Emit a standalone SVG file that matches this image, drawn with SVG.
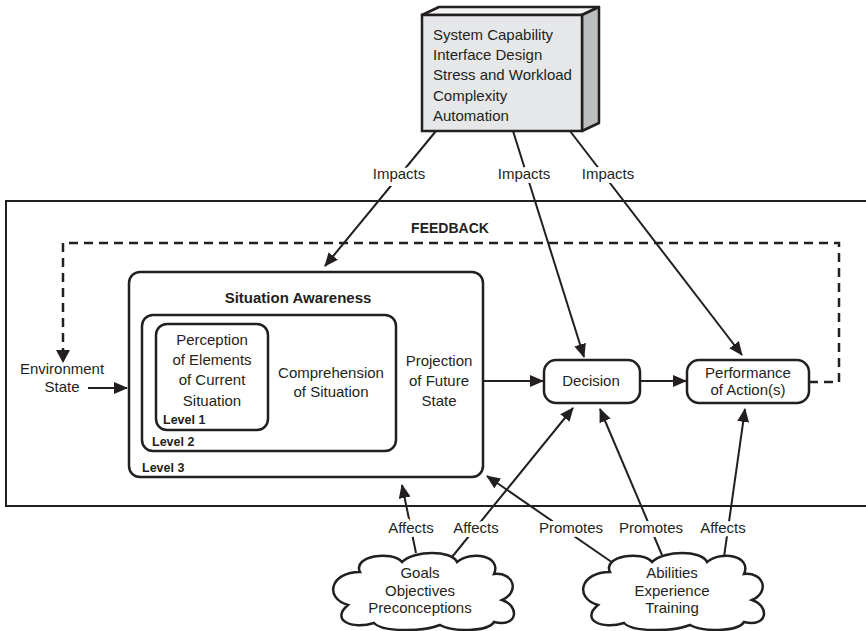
<svg xmlns="http://www.w3.org/2000/svg" width="866" height="631" viewBox="0 0 866 631">
<defs>
<style>
text{font-family:"Liberation Sans",Arial,sans-serif;font-size:15px;fill:#231f20}
.c{text-anchor:middle}
.b{font-weight:bold}
.lv{font-weight:bold;font-size:12.5px}
.box{fill:#fff;stroke:#231f20;stroke-width:2.5}
.ln{fill:none;stroke:#231f20;stroke-width:2}
.dash{fill:none;stroke:#231f20;stroke-width:2.5;stroke-dasharray:9 6}
.lbl{text-anchor:middle;paint-order:stroke;stroke:#fff;stroke-width:8px;stroke-linejoin:round}
</style>
<marker id="ah" viewBox="0 0 14 12" refX="13" refY="6" markerWidth="14" markerHeight="12" markerUnits="userSpaceOnUse" orient="auto">
<path d="M0,0 L14,6 L0,12 z" fill="#231f20"/>
</marker>
<path id="cloud" d="M -62,-20 C -70,-36 -30,-42 -20,-30 C -8,-42 30,-42 35,-30 C 50,-42 80,-36 72,-18 C 92,-20 98,0 80,8 C 98,14 96,36 72,30 C 66,40 30,40 18,33 C 0,40 -40,40 -48,31 C -70,38 -92,28 -74,13 C -98,6 -92,-20 -62,-20 Z" fill="#fff" stroke="#231f20" stroke-width="2.5"/>
</defs>
<rect x="0" y="0" width="866" height="631" fill="#fff"/>

<g id="outer">
<rect x="6" y="201" width="880" height="305" fill="none" stroke="#231f20" stroke-width="2"/>
</g>

<g id="connectors">
<path class="dash" d="M 809 382 H 839 V 243 H 63 V 350"/>
<path d="M 56,350 L 70,350 L 63,363 z" fill="#231f20"/>
<line class="ln" x1="88" y1="388" x2="127" y2="388" marker-end="url(#ah)"/>
<line class="ln" x1="483" y1="381" x2="543" y2="381" marker-end="url(#ah)"/>
<line class="ln" x1="640" y1="381" x2="686" y2="381" marker-end="url(#ah)"/>
<line class="ln" x1="436" y1="131" x2="325" y2="266" marker-end="url(#ah)"/>
<line class="ln" x1="513" y1="131" x2="584" y2="357" marker-end="url(#ah)"/>
<line class="ln" x1="570" y1="131" x2="742" y2="355" marker-end="url(#ah)"/>
<line class="ln" x1="416" y1="553" x2="402" y2="485" marker-end="url(#ah)"/>
<line class="ln" x1="452" y1="557" x2="573" y2="408" marker-end="url(#ah)"/>
<line class="ln" x1="613" y1="563" x2="487" y2="476" marker-end="url(#ah)"/>
<line class="ln" x1="662" y1="555" x2="600" y2="409" marker-end="url(#ah)"/>
<line class="ln" x1="724" y1="557" x2="745" y2="409" marker-end="url(#ah)"/>
<text class="lbl" x="399" y="179">Impacts</text>
<text class="lbl" x="524" y="179">Impacts</text>
<text class="lbl" x="608" y="179">Impacts</text>
<text class="lbl" x="411" y="533">Affects</text>
<text class="lbl" x="476" y="533">Affects</text>
<text class="lbl" x="571" y="533">Promotes</text>
<text class="lbl" x="651" y="533">Promotes</text>
<text class="lbl" x="723" y="533">Affects</text>
<text class="b c" x="450" y="233" style="font-size:14px">FEEDBACK</text>
</g>

<g id="factors">
<polygon points="422,15 439,7 599,7 582,15" fill="#f4f4f4" stroke="#231f20" stroke-width="2.5" stroke-linejoin="round"/>
<polygon points="582,15 599,7 599,123 582,131" fill="#bcbec0" stroke="#231f20" stroke-width="2.5" stroke-linejoin="round"/>
<rect x="422" y="15" width="160" height="116" fill="#e6e7e8" stroke="#231f20" stroke-width="2.5"/>
<text x="433" y="40">System Capability</text>
<text x="433" y="60">Interface Design</text>
<text x="433" y="80">Stress and Workload</text>
<text x="433" y="101">Complexity</text>
<text x="433" y="121">Automation</text>
</g>

<g id="environment">
<text class="c" x="62" y="374">Environment</text>
<text class="c" x="62" y="392">State</text>
</g>

<g id="sa-level3">
<rect class="box" x="129" y="272" width="354" height="205" rx="11"/>
<text class="b c" x="298" y="303">Situation Awareness</text>
<text class="c" x="439" y="366">Projection</text>
<text class="c" x="439" y="386">of Future</text>
<text class="c" x="439" y="406">State</text>
<text class="lv" x="142" y="472">Level 3</text>
</g>

<g id="sa-level2">
<rect class="box" x="142" y="315" width="254" height="136" rx="11"/>
<text class="c" x="331" y="378">Comprehension</text>
<text class="c" x="331" y="397">of Situation</text>
<text class="lv" x="152" y="446">Level 2</text>
</g>

<g id="sa-level1">
<rect class="box" x="156" y="324" width="112" height="106" rx="11"/>
<text class="c" x="212" y="345">Perception</text>
<text class="c" x="212" y="365">of Elements</text>
<text class="c" x="212" y="385">of Current</text>
<text class="c" x="212" y="406">Situation</text>
<text class="lv" x="163" y="424">Level 1</text>
</g>

<g id="decision">
<rect class="box" x="544" y="360" width="96" height="43" rx="12"/>
<text class="c" x="591" y="386">Decision</text>
</g>

<g id="performance">
<rect class="box" x="687" y="360" width="122" height="43" rx="12"/>
<text class="c" x="748" y="378">Performance</text>
<text class="c" x="748" y="395">of Action(s)</text>
</g>

<g id="goals">
<use href="#cloud" x="422" y="592"/>
<text class="c" x="420" y="578">Goals</text>
<text class="c" x="420" y="596">Objectives</text>
<text class="c" x="420" y="613">Preconceptions</text>
</g>

<g id="abilities">
<use href="#cloud" x="672" y="592"/>
<text class="c" x="672" y="578">Abilities</text>
<text class="c" x="672" y="596">Experience</text>
<text class="c" x="672" y="613">Training</text>
</g>
</svg>
